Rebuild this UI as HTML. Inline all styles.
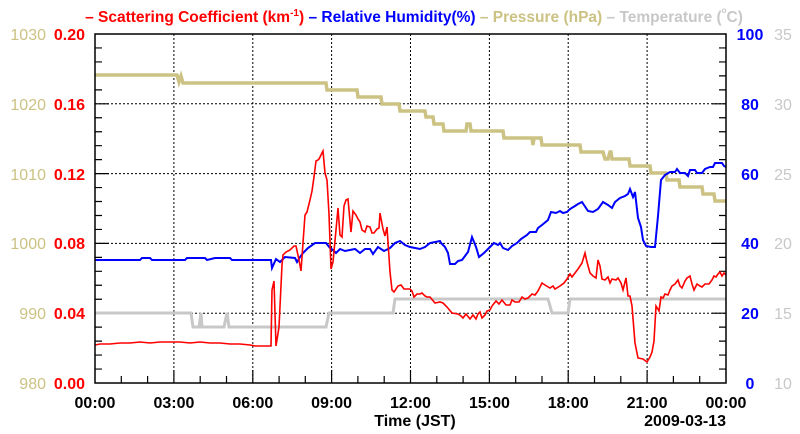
<!DOCTYPE html>
<html><head><meta charset="utf-8"><style>
html,body{margin:0;padding:0;background:#fff;}
svg{display:block;font-family:"Liberation Sans",Arial,sans-serif;}
</style></head><body>
<svg width="800" height="434" viewBox="0 0 800 434" xmlns="http://www.w3.org/2000/svg">
<rect width="800" height="434" fill="#fff"/>
<!-- title -->
<text x="414" y="22" text-anchor="middle" font-size="15.5" font-weight="bold"><tspan fill="#ff0000">– Scattering Coefficient (km<tspan font-size="10" dy="-6">-1</tspan><tspan dy="6">) </tspan></tspan><tspan fill="#0000ff">– Relative Humidity(%) </tspan><tspan fill="#cbc283">– Pressure (hPa) </tspan><tspan fill="#c8c8c8">– Temperature (<tspan font-size="8" dy="-9">o</tspan><tspan dy="9">C)</tspan></tspan></text>
<!-- grid -->
<g stroke="#000" stroke-width="1" stroke-dasharray="2,2">
<line x1="173.9" y1="34" x2="173.9" y2="383"/><line x1="252.8" y1="34" x2="252.8" y2="383"/><line x1="331.6" y1="34" x2="331.6" y2="383"/><line x1="410.5" y1="34" x2="410.5" y2="383"/><line x1="489.4" y1="34" x2="489.4" y2="383"/><line x1="568.2" y1="34" x2="568.2" y2="383"/><line x1="647.1" y1="34" x2="647.1" y2="383"/>
<line x1="95" y1="103.8" x2="726" y2="103.8"/><line x1="95" y1="173.6" x2="726" y2="173.6"/><line x1="95" y1="243.4" x2="726" y2="243.4"/><line x1="95" y1="313.2" x2="726" y2="313.2"/>
</g>
<!-- ticks -->
<g stroke="#000" stroke-width="1.2">
<path d="M95 47.96h7M95 61.92h7M95 75.88h7M95 89.84h7M95 117.76h7M95 131.72h7M95 145.68h7M95 159.64h7M95 187.56h7M95 201.52h7M95 215.48h7M95 229.44h7M95 257.36h7M95 271.32h7M95 285.28h7M95 299.24h7M95 327.16h7M95 341.12h7M95 355.08h7M95 369.04h7"/>
<path d="M95 103.8h14M95 173.6h14M95 243.4h14M95 313.2h14M726 103.8h-14M726 173.6h-14M726 243.4h-14M726 313.2h-14"/>
<path d="M726 47.96h-7M726 61.92h-7M726 75.88h-7M726 89.84h-7M726 117.76h-7M726 131.72h-7M726 145.68h-7M726 159.64h-7M726 187.56h-7M726 201.52h-7M726 215.48h-7M726 229.44h-7M726 257.36h-7M726 271.32h-7M726 285.28h-7M726 299.24h-7M726 327.16h-7M726 341.12h-7M726 355.08h-7M726 369.04h-7"/>
<path d="M121.3 383v-7M147.6 383v-7M200.2 383v-7M226.5 383v-7M279.1 383v-7M305.3 383v-7M357.9 383v-7M384.2 383v-7M436.8 383v-7M463.1 383v-7M515.7 383v-7M542 383v-7M594.5 383v-7M620.8 383v-7M673.4 383v-7M699.7 383v-7"/>
<path d="M173.9 383v-13M252.8 383v-13M331.6 383v-13M410.5 383v-13M489.4 383v-13M568.2 383v-13M647.1 383v-13"/>
</g>
<!-- pressure -->
<polyline fill="none" stroke="#cbc283" stroke-width="3.5" points="95,75 177,75 179,82 181,76 183,83 326,83 327,90 357,90 358,97 381,97 382,104 399,104 400,111 425,111 426,117 433,117 434,124 443,124 444,131 466,131 467,124 470,124 471,131 503,131 504,138 532,138 533,145 534,138 541,138 542,145 580,145 581,152 603,152 605,159 608,159 610,152 611,152 612,159 629,159 630,166 650,166 651,173 666,173 667,180 679,180 680,187 702,187 703,194 714,194 715,201 726,201"/>
<!-- temperature -->
<polyline fill="none" stroke="#c8c8c8" stroke-width="3" points="95,313 191,313 193,327 199,327 201,313 202,327 224,327 227,313 229,327 326,327 329,313 393,313 395,299 548,299 552,313 568,313 570,299 726,299"/>
<!-- RH -->
<polyline fill="none" stroke="#0000ff" stroke-width="2" points="95,260 140,260 142,258 150,258 152,260 185,260 187,258 205,258 207,260 215,258 230,258 232,260 271,260 272,268 276,259 280,262 285,257 295,258 297,262 300,257 303,253 308,248 315,243 326,243 330,248 333,250 336,253 340,249 345,251 355,249 360,253 365,249 370,249 373,254 378,247 384,251 390,248 395,243 400,241 405,245 410,247 415,248 420,249 425,247 430,243 440,241 441,243 445,247 448,253 450,264 455,264 458,261 462,260 465,256 468,252 472,237 476,247 479,257 484,253 490,247 494,243 498,245 500,243 503,248 508,250 512,246 517,243 521,239 527,235 530,232 536,232 538,228 542,225 548,220 551,212 556,213 560,211 563,213 567,212 570,209 575,206 578,204 582,202 588,211 593,212 598,209 603,202 608,205 612,208 615,202 620,198 625,196 628,194 630,189 633,197 635,192 638,218 641,227 643,240 646,246 651,247 655,247 658,216 661,180 665,175 670,172 675,172 677,169 680,173 685,173 688,176 690,170 695,170 697,173 702,173 705,169 710,167 713,167 715,163 722,163 724,166 726,167"/>
<!-- scattering -->
<polyline fill="none" stroke="#ff0000" stroke-width="1.6" points="95,345 100,344 110,344 120,343 130,343 140,342 150,343 160,342 170,342 180,342 190,343 200,342 210,343 220,343 230,344 240,344 250,345 255,346 260,346 265,346 271,346 272,290 274,281 276,346 279,327 282,265 283,255 286,252 290,250 294,246 296,246 299,260 301,271 305,215 307,212 310,200 312,191 314,177 316,161 318,160 319,159 321,155 323,151 325,173 327,180 329,214 331,269 333,262 336,230 338,208 340,235 342,237 344,206 346,200 348,199 351,232 353,211 356,215 358,219 360,222 362,230 365,232 367,226 370,227 372,233 374,233 377,229 379,228 380,213 383,229 385,236 387,227 390,272 392,290 394,292 398,286 401,285 404,289 406,289 410,289 412,291 414,297 417,294 420,294 422,293 425,296 427,297 430,297 435,303 440,302 443,303 447,307 452,313 458,314 461,316 463,318 466,314 470,319 473,315 476,319 478,314 480,312 482,318 485,315 487,311 490,310 492,306 496,301 499,304 502,300 506,305 510,305 512,300 515,302 519,302 522,297 525,299 528,298 532,294 535,295 538,291 542,283 545,285 550,288 553,286 555,289 560,286 564,283 567,279 570,274 572,277 575,273 578,269 582,263 585,253 587,262 590,273 593,276 596,278 598,260 600,266 602,279 605,280 608,277 610,283 612,279 616,280 618,278 621,283 623,290 626,278 628,296 630,296 632,306 635,343 638,358 643,359 647,362 650,357 652,352 654,341 656,306 659,311 661,297 663,298 665,294 668,295 670,290 672,286 675,284 678,280 680,286 682,288 685,281 687,278 690,276 692,284 694,290 697,284 700,286 702,287 705,284 709,284 712,280 714,276 716,277 718,274 720,272 722,276 724,273 726,275"/>
<!-- frame -->
<rect x="95" y="34" width="631" height="349" fill="none" stroke="#000" stroke-width="1.5"/>
<!-- left labels -->
<g font-size="16" fill="#cbc283" text-anchor="end">
<text x="46" y="40">1030</text><text x="46" y="110">1020</text><text x="46" y="180">1010</text><text x="46" y="249">1000</text><text x="46" y="319">990</text><text x="46" y="389">980</text>
</g>
<g font-size="16" font-weight="bold" fill="#ff0000" text-anchor="end">
<text x="85" y="40">0.20</text><text x="85" y="110">0.16</text><text x="85" y="180">0.12</text><text x="85" y="249">0.08</text><text x="85" y="319">0.04</text><text x="85" y="389">0.00</text>
</g>
<!-- right labels -->
<g font-size="16" font-weight="bold" fill="#0000ff" text-anchor="middle">
<text x="750" y="40">100</text><text x="750" y="110">80</text><text x="750" y="180">60</text><text x="750" y="249">40</text><text x="750" y="319">20</text><text x="750" y="389">0</text>
</g>
<g font-size="16" fill="#c8c8c8" text-anchor="middle">
<text x="783" y="40">35</text><text x="783" y="110">30</text><text x="783" y="180">25</text><text x="783" y="249">20</text><text x="783" y="319">15</text><text x="783" y="389">10</text>
</g>
<!-- bottom labels -->
<g font-size="16" font-weight="bold" fill="#000" text-anchor="middle">
<text x="95" y="408">00:00</text><text x="173.9" y="408">03:00</text><text x="252.8" y="408">06:00</text><text x="331.6" y="408">09:00</text><text x="410.5" y="408">12:00</text><text x="489.4" y="408">15:00</text><text x="568.2" y="408">18:00</text><text x="647.1" y="408">21:00</text><text x="726" y="408">00:00</text>
<text x="415" y="426">Time (JST)</text>
<text x="726" y="426" text-anchor="end">2009-03-13</text>
</g>
</svg>
</body></html>
